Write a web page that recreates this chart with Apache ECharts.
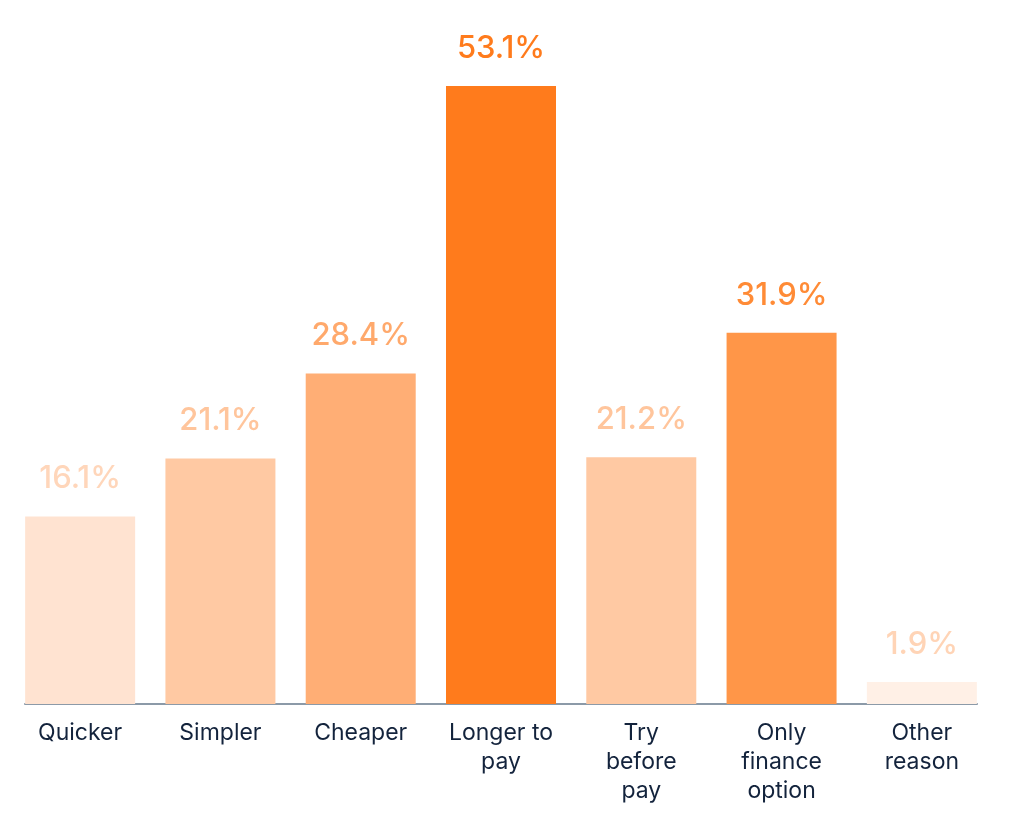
<!DOCTYPE html>
<html><head><meta charset="utf-8">
<script src="https://cdn.jsdelivr.net/npm/echarts@6/dist/echarts.min.js"></script>
<style>html,body{margin:0;padding:0;background:#fff}#c{width:1018px;height:824px}</style>
</head><body><div id="c"></div>
<script>
const categories = ['Quicker', 'Simpler', 'Cheaper', 'Longer to\npay', 'Try\nbefore\npay', 'Only\nfinance\noption', 'Other\nreason'];
const values = [16.1, 21.1, 28.4, 53.1, 21.2, 31.9, 1.9];

const barColors = ['#FFE3D1', '#FFC9A3', '#FFAE75', '#FF7B1C', '#FFC9A3', '#FF9648', '#FFF0E6'];
const labelColors = ['#FFD6BA', '#FFC59C', '#FFA96C', '#FF7B1C', '#FFC59C', '#FF8B36', '#FFD4B6'];

(function () {
const chart = echarts.init(document.getElementById('c'));
const axisBottom = 704;
const scale = 618 / 53.1;
const yMax = 60;
const gridTop = axisBottom - yMax * scale;
chart.setOption({
  animation: false,
  grid: [
    {left: 10, right: 26, top: gridTop, bottom: 824 - axisBottom, containLabel: false},
    {left: 25, right: 41, top: gridTop, bottom: 824 - axisBottom, containLabel: false}
  ],
  xAxis: [{
    type: 'category', gridIndex: 0, data: categories,
    axisLine: {show: false}, axisTick: {show: false},
    axisLabel: {color: '#13233C', fontSize: 23, fontFamily: 'Inter', lineHeight: 29, margin: 15, interval: 0}
  }, {
    type: 'category', gridIndex: 1, data: categories,
    axisLine: {show: true, lineStyle: {color: '#8C9AA8', width: 2}},
    axisTick: {show: false}, axisLabel: {show: false}
  }],
  yAxis: [{
    type: 'value', gridIndex: 0, min: 0, max: yMax, show: false, splitLine: {show: false}
  }, {
    type: 'value', gridIndex: 1, min: 0, max: yMax, show: false, splitLine: {show: false}
  }],
  series: [{
    type: 'bar', xAxisIndex: 0, yAxisIndex: 0, barWidth: 110,
    data: values.map((v, i) => ({
      value: v,
      itemStyle: {color: barColors[i]},
      label: {color: labelColors[i]}
    })),
    label: {
      show: true, position: 'top', distance: 22,
      formatter: p => p.value + '%',
      fontSize: 31, fontFamily: 'Inter', fontWeight: 500
    }
  }]
});
})();
</script></body></html>
